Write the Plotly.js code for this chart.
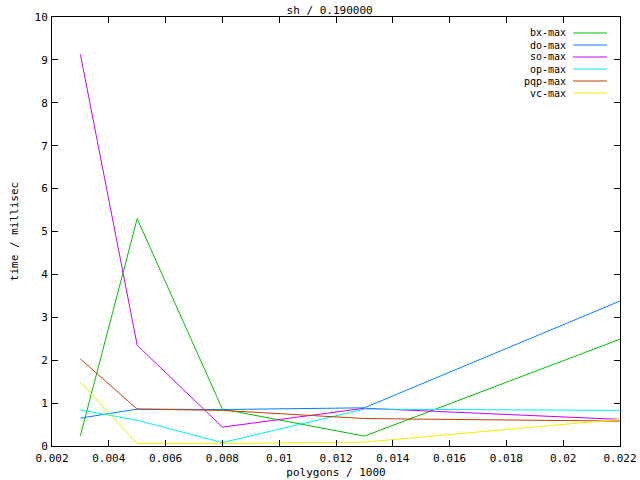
<!DOCTYPE html>
<html>
<head>
<meta charset="utf-8">
<script src="https://cdn.plot.ly/plotly-3.0.1.min.js"></script>
<style>html,body{margin:0;padding:0;background:#fff}#chart{width:640px;height:480px}</style>
</head>
<body>
<div id="chart"></div>
<script>
var xValues = [0.003, 0.005, 0.008, 0.013, 0.022];
var seriesNames = ["bx-max", "do-max", "so-max", "op-max", "pqp-max", "vc-max"];
var bxMax  = [0.24, 5.30, 0.86, 0.23, 2.49];
var doMax  = [0.65, 0.86, 0.85, 0.89, 3.38];
var soMax  = [9.13, 2.35, 0.44, 0.88, 0.62];
var opMax  = [0.84, 0.60, 0.08, 0.86, 0.83];
var pqpMax = [2.03, 0.86, 0.83, 0.64, 0.58];
var vcMax  = [1.49, 0.06, 0.06, 0.09, 0.62];
var seriesValues = [bxMax, doMax, soMax, opMax, pqpMax, vcMax];
var colors = ["#00c000", "#0080ff", "#c000ff", "#00eeee", "#c04000", "#eeee00"];
var xTicks = [0.002,0.004,0.006,0.008,0.01,0.012,0.014,0.016,0.018,0.02,0.022];
var xTickText = ["0.002","0.004","0.006","0.008","0.01","0.012","0.014","0.016","0.018","0.02","0.022"];
var yTicks = [0,1,2,3,4,5,6,7,8,9,10];

var FONT = {family: "DejaVu Sans Mono, monospace", size: 11, color: "#000"};
var LEGFONT = {family: "DejaVu Sans Mono, monospace", size: 10, color: "#000"};

var traces = seriesNames.map(function(n, i){
  return {x: xValues, y: seriesValues[i], name: n, type: "scatter", mode: "lines",
          line: {color: colors[i], width: 1}, showlegend: false};
});

var annotations = [];
var shapes = [];
seriesNames.forEach(function(n, i){
  var ypx = 33 + i * 12;
  annotations.push({xref: "paper", yref: "paper", x: (567 - 52) / 568, y: 1 - (ypx - 17) / 429,
    xanchor: "right", yanchor: "middle", text: n, showarrow: false, font: LEGFONT, borderpad: 0});
  shapes.push({type: "line", xref: "paper", yref: "paper",
    x0: (573 - 52) / 568, x1: (607 - 52) / 568,
    y0: 1 - (ypx - 17) / 429, y1: 1 - (ypx - 17) / 429,
    line: {color: colors[i], width: 1}});
});

var layout = {
  width: 640, height: 480,
  margin: {l: 52, r: 20, t: 17, b: 34},
  paper_bgcolor: "#fff", plot_bgcolor: "#fff",
  font: FONT,
  title: {text: "sh / 0.190000", font: FONT, x: 0.515, xanchor: "center", y: 0.978, yanchor: "middle"},
  xaxis: {range: [0.002, 0.022], tickvals: xTicks, ticktext: xTickText, ticks: "inside", ticklen: 6,
          tickcolor: "#000", showline: true, linecolor: "#000", linewidth: 1, mirror: "ticks",
          showgrid: false, zeroline: false, tickfont: FONT, ticklabelstandoff: 2,
          title: {text: "polygons / 1000", font: FONT, standoff: 4}},
  yaxis: {range: [0, 10], tickvals: yTicks, ticks: "inside", ticklen: 6,
          tickcolor: "#000", showline: true, linecolor: "#000", linewidth: 1, mirror: "ticks",
          showgrid: false, zeroline: false, tickfont: FONT, ticklabelstandoff: 1,
          title: {text: "time / millisec", font: FONT, standoff: 13}},
  annotations: annotations,
  shapes: shapes
};

Plotly.newPlot("chart", traces, layout, {staticPlot: true, displayModeBar: false});
</script>
</body>
</html>
